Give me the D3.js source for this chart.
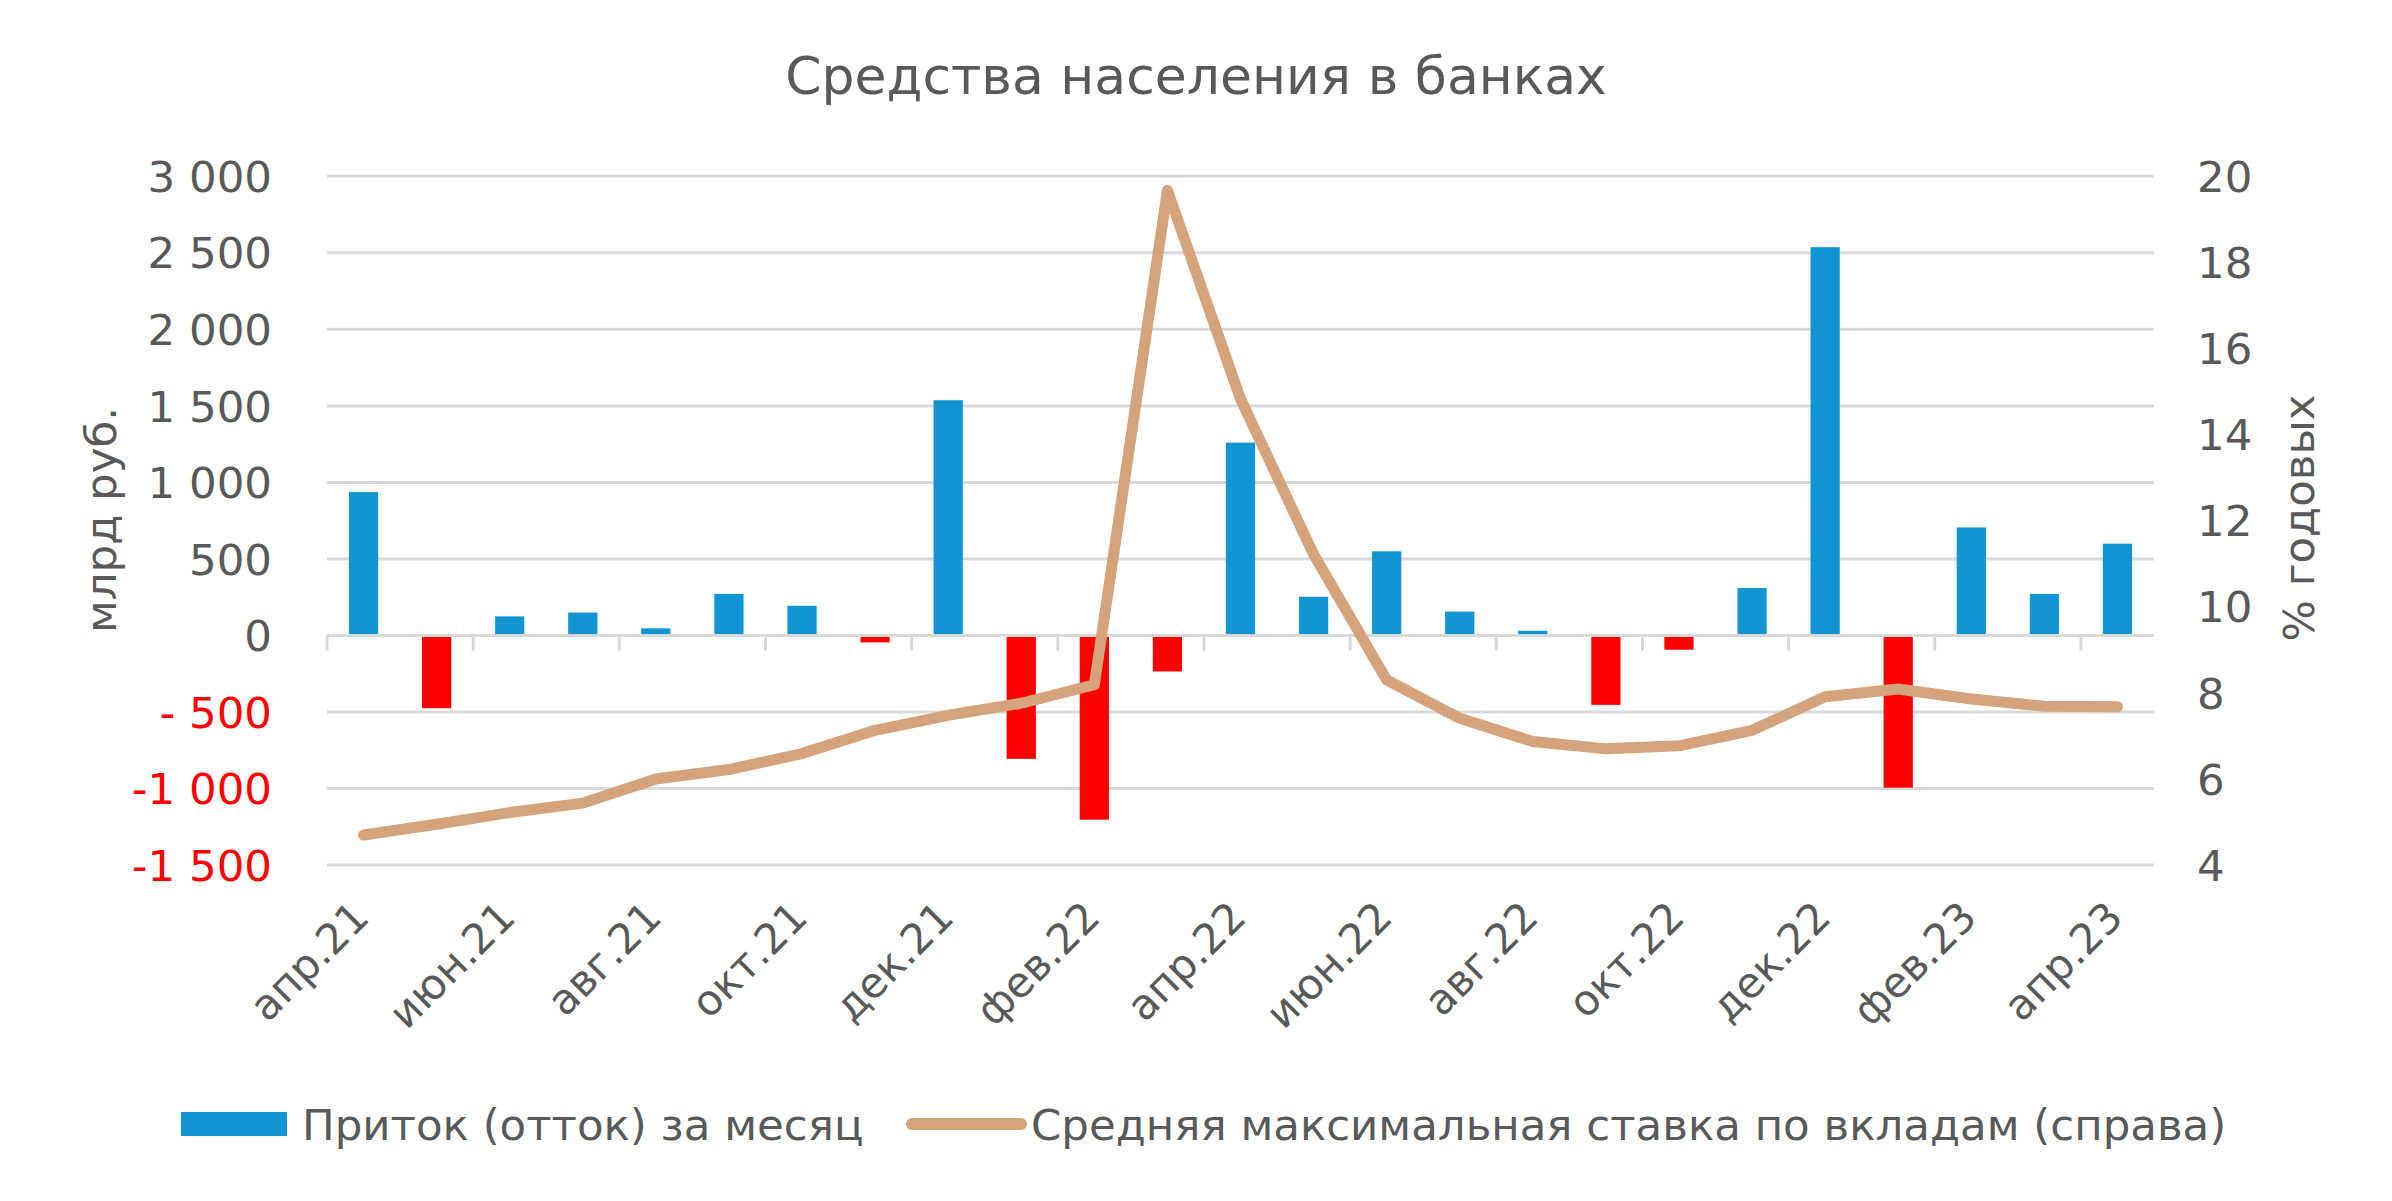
<!DOCTYPE html>
<html><head><meta charset="utf-8">
<script src="https://cdn.jsdelivr.net/npm/d3@7"></script>
<style>
html,body{margin:0;padding:0;background:#fff;}
svg{display:block;font-family:'DejaVu Sans',sans-serif;}
</style></head>
<body>
<script>
const categories = ["апр.21","май.21","июн.21","июл.21","авг.21","сен.21","окт.21","ноя.21","дек.21","янв.22","фев.22","мар.22","апр.22","май.22","июн.22","июл.22","авг.22","сен.22","окт.22","ноя.22","дек.22","янв.23","фев.23","мар.23","апр.23"];
const flows = [937,-475,125,150,47,272,194,-45,1537,-806,-1203,-235,1260,253,550,156,31,-453,-93,310,2537,-994,706,272,600];
const rates = [4.70,4.95,5.22,5.44,6.00,6.22,6.59,7.13,7.48,7.76,8.19,19.67,14.83,11.22,8.30,7.41,6.87,6.70,6.77,7.13,7.91,8.09,7.86,7.69,7.68];
const leftTicks = [3000,2500,2000,1500,1000,500,0,-500,-1000,-1500];
const leftTickLabels = ["3 000","2 500","2 000","1 500","1 000","500","0","- 500","-1 000","-1 500"];
const rightTicks = [20,18,16,14,12,10,8,6,4];
const xLabelCats = categories.filter((d,i)=>i%2===0);
const title = "Средства населения в банках";
const seriesNames = ["Приток (отток) за месяц","Средняя максимальная ставка по вкладам (справа)"];
const leftTitle = "млрд руб.";
const rightTitle = "% годовых";

const W = 2392, H = 1201;
const plot = {left:327, right:2154, top:176.3, bottom:865.1};
const blue = "#1295D3", red = "#FF0000", tan = "#D4A27B", grid = "#D9D9D9", txt = "#595959";
const fs = 43.5;

const svg = d3.select("body").append("svg").attr("width",W).attr("height",H);

const x = d3.scaleBand().domain(categories).range([plot.left, plot.right]).padding(0);
const yL = d3.scaleLinear().domain([-1500,3000]).range([plot.bottom, plot.top]);
const yR = d3.scaleLinear().domain([4,20]).range([plot.bottom, plot.top]);

// title
svg.append("text").attr("x",1196).attr("y",94).attr("text-anchor","middle")
  .attr("font-size",52).attr("fill",txt).text(title);

// gridlines
svg.append("g").selectAll("line").data(leftTicks.filter(d=>d!==0)).join("line")
  .attr("x1",plot.left).attr("x2",plot.right)
  .attr("y1",d=>yL(d)).attr("y2",d=>yL(d))
  .attr("stroke",grid).attr("stroke-width",3);

// left axis labels
svg.append("g").selectAll("text").data(leftTicks).join("text")
  .attr("x",272).attr("y",d=>yL(d)).attr("dy","0.36em")
  .attr("text-anchor","end").attr("font-size",fs)
  .attr("fill",d=>d<0?red:txt)
  .text((d,i)=>leftTickLabels[i]);

// right axis labels
svg.append("g").selectAll("text").data(rightTicks).join("text")
  .attr("x",2197).attr("y",d=>yR(d)).attr("dy","0.36em")
  .attr("text-anchor","start").attr("font-size",fs).attr("fill",txt)
  .text(d=>d);

// axis titles
svg.append("text").attr("transform","translate(100,520) rotate(-90)")
  .attr("text-anchor","middle").attr("dy","0.36em").attr("font-size",fs).attr("fill",txt).text(leftTitle);
svg.append("text").attr("transform","translate(2298,518) rotate(-90)")
  .attr("text-anchor","middle").attr("dy","0.36em").attr("font-size",fs).attr("fill",txt).text(rightTitle);

// bars
const bw = x.bandwidth()*0.4;
svg.append("g").selectAll("rect").data(flows).join("rect")
  .attr("x",(d,i)=>x(categories[i]) + x.bandwidth()/2 - bw/2)
  .attr("width",bw)
  .attr("y",d=>d>=0?yL(d):yL(0))
  .attr("height",d=>Math.abs(yL(d)-yL(0)))
  .attr("fill",d=>d>=0?blue:red);

// zero axis line + ticks
svg.append("line").attr("x1",plot.left).attr("x2",plot.right)
  .attr("y1",yL(0)).attr("y2",yL(0)).attr("stroke",grid).attr("stroke-width",3);
svg.append("g").selectAll("line").data(xLabelCats).join("line")
  .attr("x1",d=>x(d)).attr("x2",d=>x(d))
  .attr("y1",yL(0)).attr("y2",yL(0)+15)
  .attr("stroke",grid).attr("stroke-width",3);

// x labels
svg.append("g").selectAll("text").data(xLabelCats).join("text")
  .attr("transform",d=>`translate(${x(d)+x.bandwidth()/2-3},909) rotate(-45)`)
  .attr("text-anchor","end").attr("dy","0.36em").attr("font-size",42).attr("fill",txt)
  .text(d=>d);

// line
const line = d3.line().x((d,i)=>x(categories[i])+x.bandwidth()/2).y(d=>yR(d));
svg.append("path").datum(rates).attr("d",line)
  .attr("fill","none").attr("stroke",tan).attr("stroke-width",11)
  .attr("stroke-linejoin","round").attr("stroke-linecap","round");

// legend
const lg = svg.append("g");
lg.append("rect").attr("x",181).attr("y",1112).attr("width",106).attr("height",24).attr("fill",blue);
lg.append("text").attr("x",302).attr("y",1124).attr("dy","0.36em").attr("font-size",fs).attr("fill",txt).text(seriesNames[0]);
lg.append("line").attr("x1",912).attr("x2",1021).attr("y1",1124).attr("y2",1124)
  .attr("stroke",tan).attr("stroke-width",12).attr("stroke-linecap","round");
lg.append("text").attr("x",1031).attr("y",1124).attr("dy","0.36em").attr("font-size",fs).attr("fill",txt).text(seriesNames[1]);
</script>
</body></html>
